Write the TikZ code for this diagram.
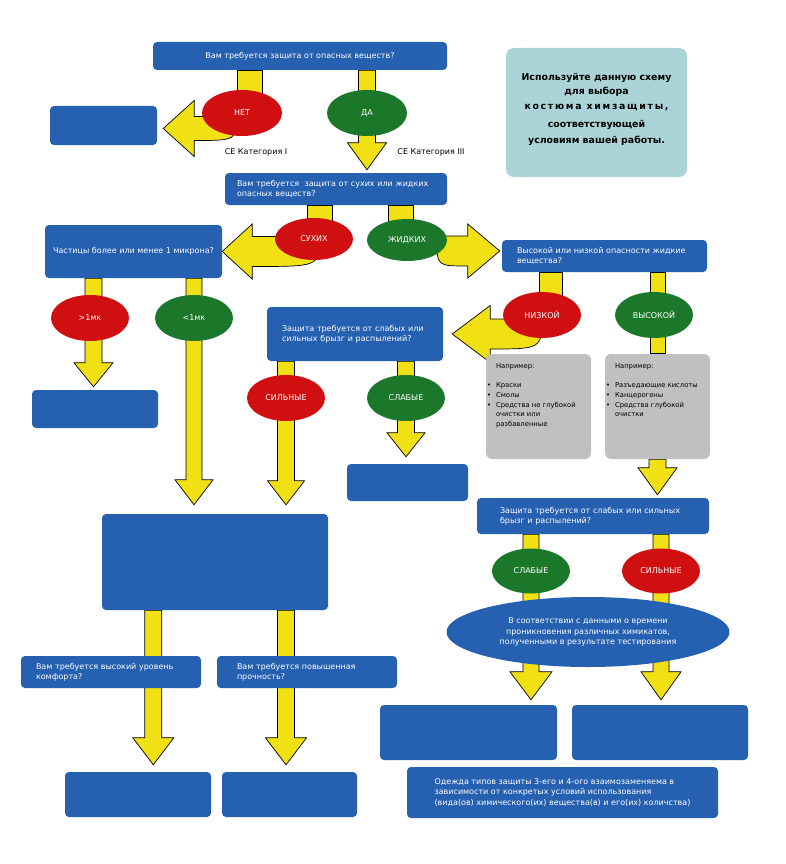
\documentclass[tikz,border=0pt]{standalone}
\usepackage{fontspec}
\setmainfont{DejaVu Sans}
\usetikzlibrary{calc,backgrounds,shapes.geometric}
\definecolor{myblue}{RGB}{38,96,176}
\definecolor{myred}{RGB}{208,16,16}
\definecolor{mygreen}{RGB}{27,120,42}
\definecolor{myyellow}{RGB}{240,224,20}
\definecolor{mygray}{RGB}{192,192,192}
\definecolor{myteal}{RGB}{170,212,216}
\tikzset{
 blubox/.style={fill=myblue, rounded corners=4pt, text=white, inner sep=0pt, font=\fontsize{8}{10.5}\selectfont},
 ovl/.style={ellipse, inner sep=0pt, text=white, font=\fontsize{8}{10}\selectfont, minimum width=78pt, minimum height=46pt},
 redov/.style={ovl, fill=myred},
 grnov/.style={ovl, fill=mygreen},
 yelarrow/.style={fill=myyellow, draw=black, line width=0.7pt, line join=miter},
 graybox/.style={fill=mygray, rounded corners=6pt, inner sep=0pt},
 graytext/.style={inner sep=0pt, align=left, font=\fontsize{6.8}{9.75}\selectfont, text=black},
 cat/.style={font=\fontsize{8}{10}\selectfont, text=black, inner sep=0pt},
 infobox/.style={fill=myteal, rounded corners=8pt, inner sep=0pt},
 infotext/.style={inner sep=0pt, align=center, font=\bfseries\fontsize{9.4}{14}\selectfont}
}
\newcommand{\blkdown}[5]{\filldraw[yelarrow] let \p1=#4, \p2=#5 in
 (\x1-#1pt,\y1) -- (\x1+#1pt,\y1) -- (\x1+#1pt,\y2+#3pt) -- (\x1+#2pt,\y2+#3pt) -- (\x1,\y2) -- (\x1-#2pt,\y2+#3pt) -- (\x1-#1pt,\y2+#3pt) -- cycle;}
\newcommand{\blkcurvL}[5]{\filldraw[yelarrow] let \p1=#4, \p2=#5 in
 (\x1,\y2+#1pt) -- (\x2+#3pt,\y2+#1pt) -- (\x2+#3pt,\y2+#2pt) -- (\x2,\y2) -- (\x2+#3pt,\y2-#2pt) -- (\x2+#3pt,\y2-#1pt) .. controls (\x1,\y2-#1pt) .. (\x1,\y1) -- cycle;}
\newcommand{\blkcurvR}[5]{\filldraw[yelarrow] let \p1=#4, \p2=#5 in
 (\x1,\y2+#1pt) -- (\x2-#3pt,\y2+#1pt) -- (\x2-#3pt,\y2+#2pt) -- (\x2,\y2) -- (\x2-#3pt,\y2-#2pt) -- (\x2-#3pt,\y2-#1pt) .. controls (\x1,\y2-#1pt) .. (\x1,\y1) -- cycle;}
\newcommand{\blkstem}[3]{\filldraw[yelarrow] let \p1=#2, \p2=#3 in (\x1-#1pt,\y1) rectangle (\x1+#1pt,\y2);}
\newcommand{\bl}{\makebox[9pt][l]{\textbullet}}
\begin{document}
\begin{tikzpicture}[x=1pt,y=-1pt]
\useasboundingbox (0,0) rectangle (785,864);
% nodes
\node[blubox, minimum width=294pt, minimum height=28pt] (top) at (300,56) {Вам требуется защита от опасных веществ?};
\node[blubox, minimum width=107pt, minimum height=39pt] (empty1) at (103.5,125.5) {};
\node[redov, minimum width=80pt] (net) at (242,113) {НЕТ};
\node[grnov, minimum width=80pt] (da) at (367,113) {ДА};
\node[cat] (cat1) at (256,152) {СЕ Категория I};
\node[cat] (cat3) at (431,152) {СЕ Категория III};
\node[infobox, minimum width=181pt, minimum height=129pt] (info) at (596.5,112.5) {};
\node[infotext] (infotxt) at ($(info.center)+(0,-3)$) {Используйте данную схему\\для выбора\hspace*{22pt}\\[1pt]{\addfontfeatures{LetterSpace=18}костюма химзащиты,}\\[4pt]соответствующей\\[2pt]условиям вашей работы.};
\node[blubox, minimum width=222pt, minimum height=32pt, text width=198pt, align=left] (box2) at (336,189) {Вам требуется\ \ защита от сухих или жидких\\опасных веществ?};
\node[redov, minimum height=42pt] (sukh) at (314,239) {СУХИХ};
\node[grnov, minimum width=80pt, minimum height=42pt] (zhid) at (407,240) {ЖИДКИХ};
\node[blubox, minimum width=177pt, minimum height=53pt] (part) at (133.5,251.5) {Частицы более или менее 1 микрона?};
\node[blubox, minimum width=205pt, minimum height=32pt, text width=175pt, align=left] (box3) at (604.5,256) {Высокой или низкой опасности жидкие\\вещества?};
\node[redov] (gt) at (90,318) {>1мк};
\node[grnov] (lt) at (194,318) {<1мк};
\node[blubox, minimum width=126pt, minimum height=38pt] (small1) at (95,409) {};
\node[redov] (niz) at (542,315) {НИЗКОЙ};
\node[grnov] (vys) at (654,315) {ВЫСОКОЙ};
\node[blubox, minimum width=176pt, minimum height=54pt, text width=146pt, align=left] (box4) at (355,334) {Защита требуется от слабых или\\сильных брызг и распылений?};
\node[redov] (sil1) at (286,398) {СИЛЬНЫЕ};
\node[grnov] (slab1) at (406,398) {СЛАБЫЕ};
\node[blubox, minimum width=121pt, minimum height=37pt] (small2) at (407.5,482.5) {};
\node[graybox, minimum width=105pt, minimum height=105pt] (gray1) at (538.5,406.5) {};
\node[graybox, minimum width=105pt, minimum height=105pt] (gray2) at (657.5,406.5) {};
\node[graytext, anchor=north west] (g1t) at ($(gray1.north west)+(1,10)$) {\hspace*{9pt}Например:\\[9pt]\bl Краски\\\bl Смолы\\\bl Средства не глубокой\\\hspace*{9pt}очистки или\\\hspace*{9pt}разбавленные};
\node[graytext, anchor=north west] (g2t) at ($(gray2.north west)+(1,10)$) {\hspace*{9pt}Например:\\[9pt]\bl Разъедающие кислоты\\\bl Канцерогены\\\bl Средства глубокой\\\hspace*{9pt}очистки};
\node[blubox, minimum width=232pt, minimum height=36pt, text width=186pt, align=left] (box6) at (593,516) {Защита требуется от слабых или сильных\\брызг и распылений?};
\node[grnov, minimum height=45pt] (slab2) at (531,571) {СЛАБЫЕ};
\node[redov, minimum height=45pt] (sil2) at (661,571) {СИЛЬНЫЕ};
\node[ellipse, fill=myblue, text=white, inner sep=0pt, minimum width=283pt, minimum height=70pt, align=center, font=\fontsize{8}{10.5}\selectfont] (bigell) at (588,632) {В соответствии с данными о времени\\проникновения различных химикатов,\\полученными в результате тестирования};
\node[blubox, minimum width=177pt, minimum height=55pt] (br1) at (468.5,732.5) {};
\node[blubox, minimum width=176pt, minimum height=55pt] (br2) at (660,732.5) {};
\node[blubox, minimum width=311pt, minimum height=51pt, align=left] (note) at (562.5,792.5) {Одежда типов защиты 3-его и 4-ого взаимозаменяема в\\зависимости от конкретых условий использования\\(вида(ов) химического(их) вещества(в) и его(их) количства)};
\node[blubox, minimum width=226pt, minimum height=96pt] (bigbox) at (215,562) {};
\node[blubox, minimum width=180pt, minimum height=32pt, text width=150pt, align=left] (comfort) at (111,672) {Вам требуется высокий уровень\\комфорта?};
\node[blubox, minimum width=180pt, minimum height=32pt, text width=140pt, align=left] (strength) at (307,672) {Вам требуется повышенная\\прочность?};
\node[blubox, minimum width=146pt, minimum height=45pt] (bl1) at (138,794.5) {};
\node[blubox, minimum width=135pt, minimum height=45pt] (bl2) at (289.5,794.5) {};
% connectors
\begin{pgfonlayer}{background}
\fill[white] (0,0) rectangle (785,864);
\blkstem{12.5}{($(net.center)+(8,0)$)}{(top.south)}
\blkcurvL{12}{28}{31}{($(net.center)+(-5,0)$)}{($(empty1.east)+(6,3)$)}
\blkdown{8.5}{19.5}{27}{(da.center |- top.south)}{($(da.center |- box2.north)+(0,-3)$)}
\blkstem{12.5}{($(sukh.center)+(5.5,0)$)}{(box2.south)}
\blkcurvL{15}{27.5}{30}{($(sukh.center)+(5,0)$)}{(part.east)}
\blkstem{12.5}{($(zhid.center)+(-6.5,0)$)}{(box2.south)}
\blkcurvR{15}{27}{32}{($(zhid.center)+(30,0)$)}{($(box3.west)+(-2,-5)$)}
\blkdown{8.5}{19.5}{24}{($(gt.center |- part.south)+(3.5,0)$)}{($(gt.center |- small1.north)+(0,-3)$)}
\blkdown{8}{19}{25}{(lt.center |- part.south)}{($(lt.center |- bigbox.north)+(0,-9)$)}
\blkstem{11.5}{($(niz.center)+(8.5,0)$)}{(box3.south)}
\blkcurvL{15}{28.5}{38}{(niz.center)}{($(box4.east)+(9,0)$)}
\blkstem{7.5}{($(vys.center |- gray2.north)+(3.5,0)$)}{(box3.south)}
\blkdown{8.5}{19.5}{27}{(gray2.south)}{($(gray2.south |- box6.north)+(0,-3)$)}
\blkdown{8.5}{18.5}{24}{(sil1.center |- box4.south)}{($(sil1.center |- bigbox.north)+(0,-9)$)}
\blkdown{8.5}{19}{24}{(slab1.center |- box4.south)}{($(slab1.center |- small2.north)+(0,-7)$)}
\blkdown{8}{21}{28}{(slab2.center |- box6.south)}{($(slab2.center |- br1.north)+(0,-5)$)}
\blkdown{8}{20}{28}{(sil2.center |- box6.south)}{($(sil2.center |- br2.north)+(0,-5)$)}
\blkdown{8.5}{20.5}{27}{($(bigbox.south west)+(51.5,0)$)}{($(bl1.north)+(0,-7)$)}
\blkdown{8.5}{20.5}{27}{(sil1.center |- bigbox.south)}{($(bl2.north)+(0,-7)$)}
\end{pgfonlayer}
\end{tikzpicture}
\end{document}
